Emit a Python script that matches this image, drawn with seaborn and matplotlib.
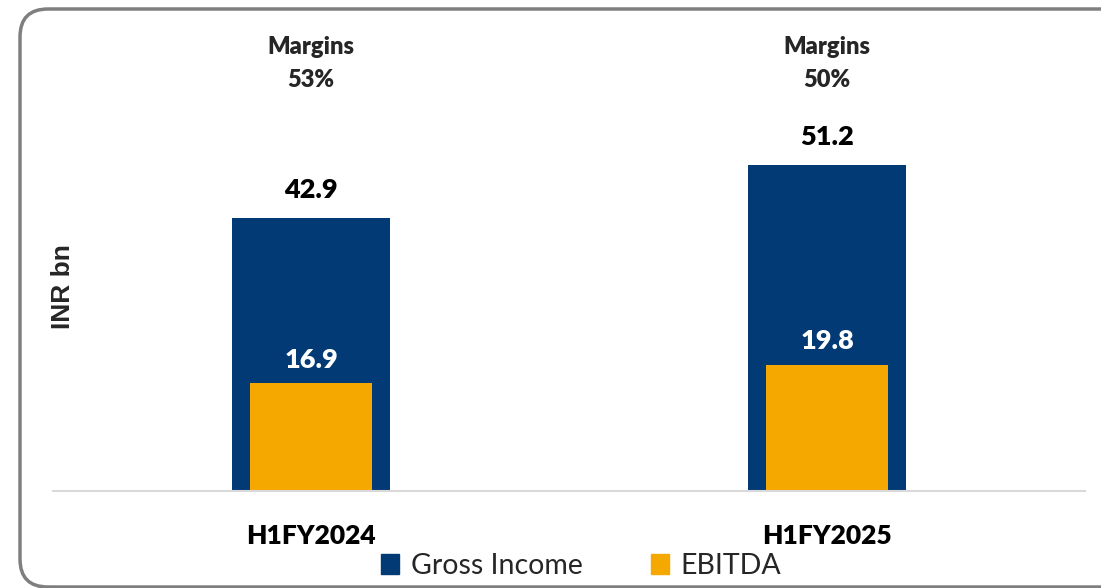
import matplotlib
matplotlib.use('Agg')
import matplotlib.pyplot as plt
from matplotlib.patches import FancyBboxPatch, Patch
from matplotlib.transforms import IdentityTransform, blended_transform_factory
import seaborn as sns
import pandas as pd

periods = ['H1FY2024', 'H1FY2025']
gross_income = [42.9, 51.2]
ebitda = [16.9, 19.8]
margins = ['53%', '50%']

navy = '#013A75'
orange = '#F5A800'

sns.set_theme(style='white')
plt.rcParams['font.family'] = ['Lato', 'DejaVu Sans']

fig = plt.figure(figsize=(11.01, 5.88), dpi=100)
W, H = 1101, 588
ax = fig.add_axes([53 / W, (H - 491) / H, (1085 - 53) / W, (491 - 20) / H])

df = pd.DataFrame({'period': periods, 'gross': gross_income, 'ebitda': ebitda})
sns.barplot(data=df, x='period', y='gross', color=navy, width=0.305,
            saturation=1, linewidth=0, ax=ax)
sns.barplot(data=df, x='period', y='ebitda', color=orange, width=0.236,
            saturation=1, linewidth=0, ax=ax)

ax.set_xlim(-0.5, 1.5)
ax.set_ylim(0, 471 / 6.37)

# value labels + margins above each bar group
trans = blended_transform_factory(ax.transData, fig.transFigure)
for i in range(len(periods)):
    ax.annotate(f'{gross_income[i]:.1f}', (i, gross_income[i]),
                xytext=(0, 20), textcoords='offset points',
                ha='center', va='center', fontsize=19.5, fontweight='heavy',
                color='black')
    ax.annotate(f'{ebitda[i]:.1f}', (i, ebitda[i]),
                xytext=(0, 17), textcoords='offset points',
                ha='center', va='center', fontsize=19.5, fontweight='heavy',
                color='white')
    ax.text(i, 1 - 47 / H, 'Margins', transform=trans, ha='center',
            va='center', fontsize=17, fontweight='heavy')
    ax.text(i, 1 - 80 / H, margins[i], transform=trans, ha='center',
            va='center', fontsize=17, fontweight='heavy')

for s in ['top', 'right', 'left']:
    ax.spines[s].set_visible(False)
ax.spines['bottom'].set_color('#d9d9d9')
ax.spines['bottom'].set_linewidth(1.5)
ax.set_yticks([])
ax.set_xlabel('')
ax.set_ylabel('')
fig.text(63 / W, 1 - 287 / H, 'INR bn', rotation=90, rotation_mode='anchor',
         ha='center', va='center', fontsize=19, fontweight='bold',
         family=['Liberation Sans', 'DejaVu Sans'])
ax.tick_params(axis='x', length=0, pad=24)
for lab in ax.get_xticklabels():
    lab.set_fontsize(19)
    lab.set_fontweight('heavy')
    lab.set_color('black')

handles = [Patch(color=navy, label='Gross Income'),
           Patch(color=orange, label='EBITDA')]
fig.legend(handles=handles, loc='center', bbox_to_anchor=(581 / W, 1 - 566 / H),
           ncol=2, frameon=False, fontsize=20.5, handlelength=0.65,
           handleheight=0.65, handletextpad=0.4, columnspacing=2.4,
           borderaxespad=0, borderpad=0)

# rounded frame around the whole chart
border = FancyBboxPatch((20, 1), 1110, 578, boxstyle='round,pad=0,rounding_size=28',
                        transform=IdentityTransform(), fill=False,
                        edgecolor='#7f7f7f', linewidth=2.5)
fig.patches.append(border)

fig.savefig('out.png', dpi=100)
